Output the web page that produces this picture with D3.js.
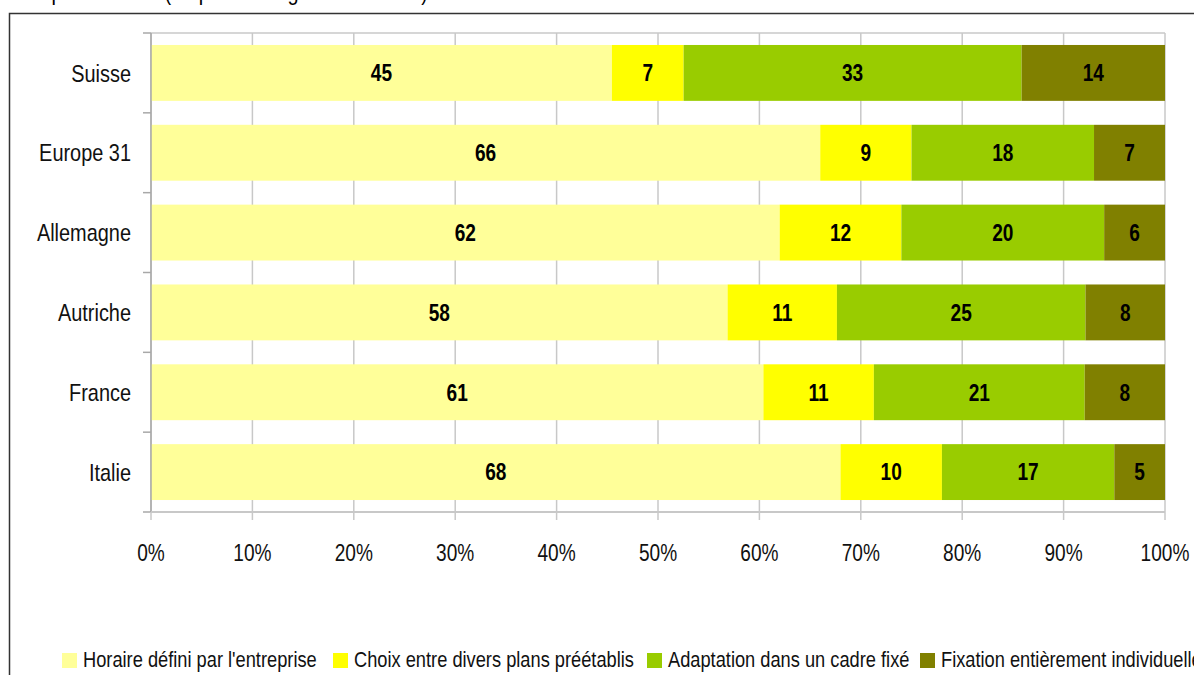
<!DOCTYPE html>
<html>
<head>
<meta charset="utf-8">
<script src="https://cdn.jsdelivr.net/npm/d3@7"></script>
<style>
  body { margin: 0; background: #fff; }
  text { font-family: "Liberation Sans Narrow", "Arial Narrow", "Liberation Sans", sans-serif; }
</style>
</head>
<body>
<div id="chart"></div>
<script>
var countries = ["Suisse", "Europe 31", "Allemagne", "Autriche", "France", "Italie"];
var seriesNames = ["Horaire défini par l'entreprise", "Choix entre divers plans préétablis",
                   "Adaptation dans un cadre fixé", "Fixation entièrement individuelle"];
var horaire   = [45, 66, 62, 58, 61, 68];
var choix     = [7, 9, 12, 11, 11, 10];
var adaptation = [33, 18, 20, 25, 21, 17];
var fixation  = [14, 7, 6, 8, 8, 5];
var colors = ["#FFFF99", "#FFFF00", "#99CC00", "#808000"];
var tickValues = [0, 0.1, 0.2, 0.3, 0.4, 0.5, 0.6, 0.7, 0.8, 0.9, 1];

var width = 1194, height = 675;
var plot = { left: 151, right: 1165, top: 33, bottom: 512 };
var squeeze = 0.83; // no narrow font installed, so squeeze the regular one

function at(px, py) {
    return "translate(" + px + "," + py + ") scale(" + squeeze + ",1)";
}

var svg = d3.select("#chart").append("svg")
    .attr("width", width)
    .attr("height", height);

// title, cut off by the top of the picture
svg.append("text")
    .attr("transform", at(14, 0))
    .style("font-size", "24px")
    .text("Temps de travail (en pourcentage des salariés)");

// outer frame
svg.append("rect")
    .attr("x", 9.5).attr("y", 13.5)
    .attr("width", 1300).attr("height", 800)
    .attr("fill", "none")
    .attr("stroke", "#333")
    .attr("stroke-width", 1.5);

// build rows, each one stacked to 100%
var rows = countries.map(function (c, i) {
    var vals = [horaire[i], choix[i], adaptation[i], fixation[i]];
    var total = d3.sum(vals);
    var x0 = 0;
    return {
        name: c,
        segs: vals.map(function (v, k) {
            var s = { k: k, v: v, name: c, x0: x0 / total, x1: (x0 + v) / total };
            x0 += v;
            return s;
        })
    };
});

var x = d3.scaleLinear().domain([0, 1]).range([plot.left, plot.right]);
var y = d3.scaleBand().domain(countries)
    .range([plot.top, plot.bottom])
    .paddingInner(0.3)
    .paddingOuter(0.15);

// gridlines
svg.append("g").selectAll("line")
    .data(tickValues)
    .enter().append("line")
    .attr("x1", function (d) { return x(d); })
    .attr("x2", function (d) { return x(d); })
    .attr("y1", plot.top)
    .attr("y2", plot.bottom)
    .attr("stroke", "#c8c8c8")
    .attr("stroke-width", 1.5);

svg.append("line")
    .attr("x1", plot.left).attr("x2", plot.right)
    .attr("y1", plot.top).attr("y2", plot.top)
    .attr("stroke", "#c8c8c8").attr("stroke-width", 1.5);

// bars
var g = svg.append("g").selectAll("g")
    .data(rows)
    .enter().append("g");

g.selectAll("rect")
    .data(function (d) { return d.segs; })
    .enter().append("rect")
    .attr("x", function (d) { return x(d.x0); })
    .attr("width", function (d) { return x(d.x1) - x(d.x0); })
    .attr("y", function (d) { return y(d.name); })
    .attr("height", y.bandwidth())
    .attr("fill", function (d) { return colors[d.k]; });

g.selectAll("text")
    .data(function (d) { return d.segs; })
    .enter().append("text")
    .attr("transform", function (d) {
        return at((x(d.x0) + x(d.x1)) / 2, y(d.name) + y.bandwidth() / 2);
    })
    .attr("dy", "0.36em")
    .attr("text-anchor", "middle")
    .style("font-size", "23px")
    .style("font-weight", "bold")
    .text(function (d) { return d.v; });

// y axis
var boundaries = d3.range(countries.length + 1).map(function (i) {
    return plot.top + i * y.step();
});
svg.append("line")
    .attr("x1", plot.left).attr("x2", plot.left)
    .attr("y1", plot.top).attr("y2", plot.bottom)
    .attr("stroke", "#a8a8a8").attr("stroke-width", 1.5);
svg.append("g").selectAll("line")
    .data(boundaries)
    .enter().append("line")
    .attr("x1", plot.left - 8).attr("x2", plot.left)
    .attr("y1", function (d) { return d; })
    .attr("y2", function (d) { return d; })
    .attr("stroke", "#a8a8a8").attr("stroke-width", 1.5);
svg.append("g").selectAll("text")
    .data(countries)
    .enter().append("text")
    .attr("transform", function (d) { return at(131, y(d) + y.bandwidth() / 2); })
    .attr("dy", "0.36em")
    .attr("text-anchor", "end")
    .style("font-size", "24px")
    .attr("fill", "#111")
    .text(function (d) { return d; });

// x axis
svg.append("line")
    .attr("x1", plot.left).attr("x2", plot.right)
    .attr("y1", plot.bottom).attr("y2", plot.bottom)
    .attr("stroke", "#c8c8c8").attr("stroke-width", 2);
svg.append("g").selectAll("line")
    .data(tickValues)
    .enter().append("line")
    .attr("x1", function (d) { return x(d); })
    .attr("x2", function (d) { return x(d); })
    .attr("y1", plot.bottom).attr("y2", plot.bottom + 8)
    .attr("stroke", "#c8c8c8").attr("stroke-width", 1.5);
svg.append("g").selectAll("text")
    .data(tickValues)
    .enter().append("text")
    .attr("transform", function (d) { return at(x(d), 561); })
    .attr("text-anchor", "middle")
    .style("font-size", "23px")
    .attr("fill", "#111")
    .text(d3.format(".0%"));

// legend
var legendX = [62, 333, 647, 920];
var leg = svg.append("g").selectAll("g")
    .data(seriesNames)
    .enter().append("g")
    .attr("transform", function (d, i) { return "translate(" + legendX[i] + ",653)"; });
leg.append("rect")
    .attr("width", 15).attr("height", 15)
    .attr("fill", function (d, i) { return colors[i]; });
leg.append("text")
    .attr("transform", at(21, 14))
    .style("font-size", "22px")
    .attr("fill", "#111")
    .text(function (d) { return d; });
</script>
</body>
</html>
